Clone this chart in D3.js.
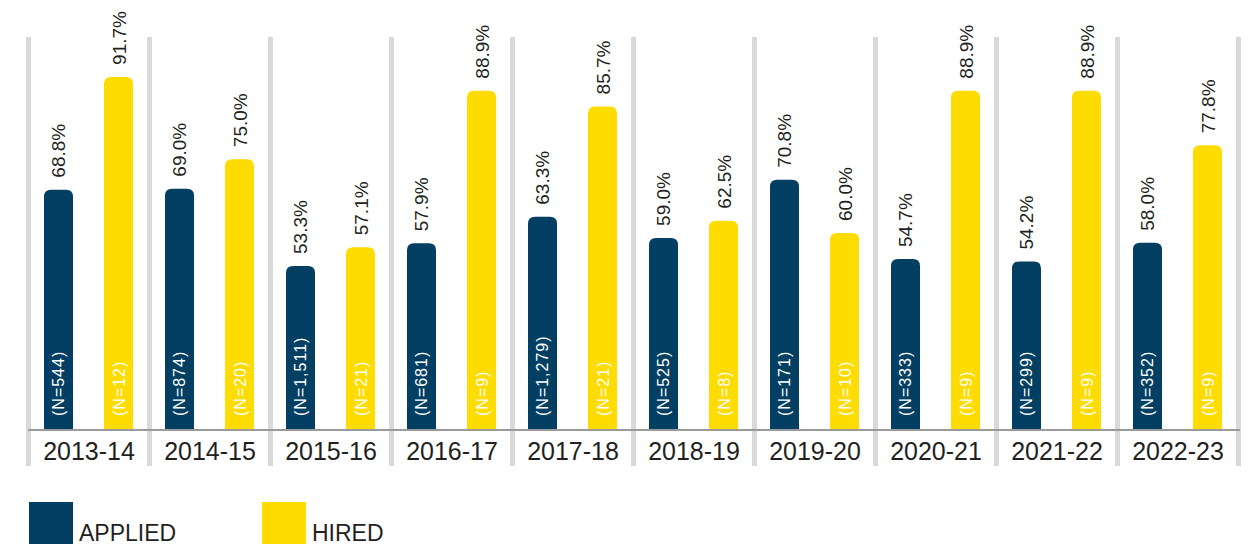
<!DOCTYPE html>
<html>
<head>
<meta charset="utf-8">
<script src="https://cdn.jsdelivr.net/npm/d3@7"></script>
<style>
  body { margin: 0; background: #fff; }
  text { font-family: "Liberation Sans", Arial, sans-serif; fill: #231f20; }
</style>
</head>
<body>
<div id="chart"></div>
<script>
var w = 1254, h = 546;

var years = ["2013-14", "2014-15", "2015-16", "2016-17", "2017-18", "2018-19", "2019-20", "2020-21", "2021-22", "2022-23"];
var applied = [68.8, 69.0, 53.3, 57.9, 63.3, 59.0, 70.8, 54.7, 54.2, 58.0];
var hired = [91.7, 75.0, 57.1, 88.9, 85.7, 62.5, 60.0, 88.9, 88.9, 77.8];
var appliedN = ["544", "874", "1,511", "681", "1,279", "525", "171", "333", "299", "352"];
var hiredN = ["12", "20", "21", "9", "21", "8", "10", "9", "9", "9"];
var series = ["APPLIED", "HIRED"];
var color = {"APPLIED": "#023f62", "HIRED": "#ffdc00"};

var rows = [];
years.forEach(function(y, i) {
    rows.push({year: y, key: "APPLIED", v: applied[i], n: appliedN[i]});
    rows.push({year: y, key: "HIRED", v: hired[i], n: hiredN[i]});
});

var svg = d3.select("#chart").append("svg")
    .attr("width", w)
    .attr("height", h);

var x0 = d3.scaleBand().domain(years).range([28.5, 1238.5]);
var x1 = d3.scaleBand().domain(series).range([15.5, 104.5]).paddingInner(0.5167);
var y = d3.scaleLinear().domain([20, 100]).range([430, 36]);

// group separators
svg.selectAll(".sep")
    .data(years.concat(["end"]))
    .enter().append("line")
    .attr("x1", function(d, i){ return 28.5 + i * x0.step(); })
    .attr("x2", function(d, i){ return 28.5 + i * x0.step(); })
    .attr("y1", 37)
    .attr("y2", 466)
    .style("stroke", "#d9d9d9")
    .style("stroke-width", 5);

function topRounded(x, yTop, bw, yBase, r) {
    return "M" + x + "," + yBase +
        "V" + (yTop + r) +
        "Q" + x + "," + yTop + " " + (x + r) + "," + yTop +
        "H" + (x + bw - r) +
        "Q" + (x + bw) + "," + yTop + " " + (x + bw) + "," + (yTop + r) +
        "V" + yBase + "Z";
}

var bars = svg.selectAll(".bar")
    .data(rows)
    .enter().append("g")
    .attr("transform", function(d){ return "translate(" + (x0(d.year) + x1(d.key)) + ",0)"; });

bars.append("path")
    .attr("d", function(d){ return topRounded(0, y(d.v), x1.bandwidth(), y(20), 7); })
    .style("fill", function(d){ return color[d.key]; });

// value labels
bars.append("text")
    .attr("transform", function(d){ return "translate(" + (x1.bandwidth() / 2 + 7) + "," + (y(d.v) - 12) + ") rotate(-90)"; })
    .style("font-size", "19px")
    .text(function(d){ return d.v.toFixed(1) + "%"; });

// N labels
bars.append("text")
    .attr("transform", function(d){ return "translate(" + (x1.bandwidth() / 2 + 6) + "," + (y(20) - 14) + ") rotate(-90)"; })
    .style("font-size", "16px")
    .style("letter-spacing", "1px")
    .style("fill", "#fff")
    .text(function(d){ return "(N=" + d.n + ")"; });

// baseline
svg.append("line")
    .attr("x1", 28).attr("x2", 1240)
    .attr("y1", y(20)).attr("y2", y(20))
    .style("stroke", "#9a9a9a")
    .style("stroke-width", 2);

// year labels
svg.selectAll(".year")
    .data(years)
    .enter().append("text")
    .attr("x", function(d){ return x0(d) + x0.bandwidth() / 2; })
    .attr("y", 460)
    .attr("text-anchor", "middle")
    .style("font-size", "25px")
    .text(function(d){ return d; });

// legend
var legend = svg.selectAll(".legend")
    .data(series)
    .enter().append("g")
    .attr("transform", function(d, i){ return "translate(" + (29 + i * 233) + ",502)"; });

legend.append("rect")
    .attr("width", 44)
    .attr("height", 42)
    .style("fill", function(d){ return color[d]; });

legend.append("text")
    .attr("x", 50)
    .attr("y", 39)
    .style("font-size", "23px")
    .text(function(d){ return d; });
</script>
</body>
</html>
